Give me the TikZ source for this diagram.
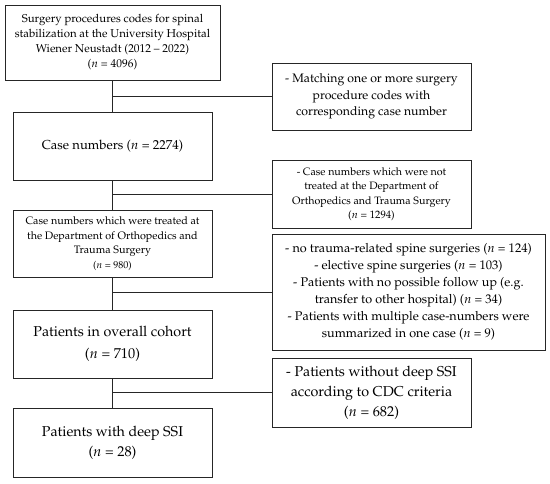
\documentclass[tikz,border=0pt]{standalone}
\usepackage[T1]{fontenc}
\usepackage{mathpazo}
\begin{document}
\begin{tikzpicture}[x=1pt,y=-1pt,
  box/.style={draw=black!85, line width=0.8pt, inner sep=0pt, align=center, anchor=center},
  conn/.style={draw=black!85, line width=0.8pt}]
\useasboundingbox (0,0) rectangle (550,483);
\node[box, minimum width=215pt, minimum height=75pt, font=\fontsize{11.4}{15}\selectfont] (b1) at (112.5,42.5)
  {Surgery procedures codes for spinal\\stabilization at the University Hospital\\Wiener Neustadt (2012 -- 2022)\\($n$ = 4096)};
\node[box, minimum width=199pt, minimum height=67pt, font=\fontsize{12.3}{16.5}\selectfont] (r1) at (371.5,96.5)
  {- Matching one or more surgery\\procedure codes with\\corresponding case number};
\node[box, minimum width=199pt, minimum height=68pt, font=\fontsize{13}{16}\selectfont] (b2) at (112.5,146)
  {Case numbers ($n$ = 2274)};
\node[box, minimum width=199pt, minimum height=68pt, font=\fontsize{10.7}{14.5}\selectfont] (r2) at (371.5,194)
  {- Case numbers which were not\\treated at the Department of\\Orthopedics and Trauma Surgery\\($n$ = 1294)};
\node[box, minimum width=199pt, minimum height=67pt, font=\fontsize{10.8}{14.5}\selectfont] (b3) at (112.5,243.5)
  {Case numbers which were treated at\\the Department of Orthopedics and\\Trauma Surgery\\{\fontsize{10}{14.5}\selectfont($n$ = 980)}};
\node[box, minimum width=273pt, minimum height=116pt, font=\fontsize{12.6}{17}\selectfont] (r3) at (408.5,292)
  {- no trauma-related spine surgeries ($n$ = 124)\\- elective spine surgeries ($n$ = 103)\\- Patients with no possible follow up (e.g.\\transfer to other hospital) ($n$ = 34)\\- Patients with multiple case-numbers were\\summarized in one case ($n$ = 9)};
\node[box, minimum width=199pt, minimum height=68pt, font=\fontsize{14.3}{22}\selectfont] (b4) at (112.5,344)
  {Patients in overall cohort\\($n$ = 710)};
\node[box, minimum width=199pt, minimum height=69pt, font=\fontsize{14.3}{20}\selectfont] (r4) at (371.5,392.5)
  {- Patients without deep SSI\\according to CDC criteria\\($n$ = 682)};
\node[box, minimum width=199pt, minimum height=69pt, font=\fontsize{14.3}{20}\selectfont] (b5) at (112.5,442.5)
  {Patients with deep SSI\\($n$ = 28)};
\draw[conn] (b1.south) -- (b2.north);
\draw[conn] (b2.south) -- (b3.north);
\draw[conn] (b3.south) -- (b4.north);
\draw[conn] (b4.south) -- (b5.north);
\draw[conn] (r1.west) -- (r1.west -| b1.south);
\draw[conn] (r2.west) -- (r2.west -| b2.south);
\draw[conn] (r3.west) -- (r3.west -| b3.south);
\draw[conn] (r4.west) -- (r4.west -| b4.south);
\end{tikzpicture}
\end{document}
